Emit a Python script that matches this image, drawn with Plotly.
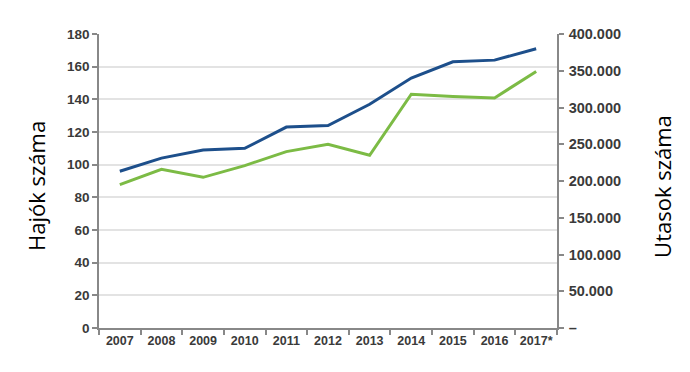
import plotly.graph_objects as go

years = ["2007", "2008", "2009", "2010", "2011", "2012", "2013", "2014", "2015", "2016", "2017*"]
hajok = [96, 104, 109, 110, 123, 124, 137, 153, 163, 164, 171]
utasok = [195000, 216000, 205000, 221000, 240000, 250000, 235000, 318000, 315000, 313000, 349000]

left_ticks = [0, 20, 40, 60, 80, 100, 120, 140, 160, 180]
right_ticks = [0, 50000, 100000, 150000, 200000, 250000, 300000, 350000, 400000]
right_labels = ["–", "50.000", "100.000", "150.000", "200.000", "250.000", "300.000", "350.000", "400.000"]

fig = go.Figure()
fig.add_trace(go.Scatter(x=years, y=hajok, mode="lines", line=dict(color="#1d4f8b", width=3), yaxis="y"))
fig.add_trace(go.Scatter(x=years, y=utasok, mode="lines", line=dict(color="#7cbb45", width=3), yaxis="y2"))

fig.update_layout(
    width=690, height=372,
    margin=dict(l=91, r=141, t=26, b=52, autoexpand=False),
    paper_bgcolor="white", plot_bgcolor="white",
    showlegend=False,
    xaxis=dict(type="category", range=[-0.5, 10.5], tickson="boundaries", tickangle=0,
               automargin=False,
               ticks="outside", ticklen=5, tickcolor="#888", tickwidth=1.5,
               showline=True, linecolor="#888", linewidth=1.5, showgrid=False,
               tickfont=dict(family="Liberation Sans", size=12.5, color="#3a3a3a", weight="bold")),
    yaxis=dict(range=[0, 180], tickvals=left_ticks, ticks="outside", ticklen=5, automargin=False,
               tickcolor="#888", tickwidth=1.5, showline=True, linecolor="#888", linewidth=1.5,
               showgrid=True, gridcolor="#e3e3e3", gridwidth=1.5, zeroline=False,
               tickfont=dict(family="Liberation Sans", size=13.5, color="#3a3a3a", weight="bold")),
    yaxis2=dict(range=[0, 400000], overlaying="y", side="right", tickvals=right_ticks, automargin=False,
                ticktext=right_labels, ticks="outside", ticklen=5, tickcolor="#888", tickwidth=1.5,
                ticklabelstandoff=2,
                showline=True, linecolor="#888", linewidth=1.5, showgrid=False, zeroline=False,
                tickfont=dict(family="Liberation Sans", size=14.5, color="#3a3a3a", weight="bold")),
    annotations=[
        dict(text="Hajók száma", xref="paper", yref="paper", x=-0.1376, y=0.483,
             textangle=-90, showarrow=False, xanchor="center", yanchor="middle",
             font=dict(family="Open Sans", size=22, color="black")),
        dict(text="Utasok száma", xref="paper", yref="paper", x=1.229, y=0.483,
             textangle=-90, showarrow=False, xanchor="center", yanchor="middle",
             font=dict(family="Open Sans", size=22, color="black")),
    ],
)

fig.write_html("out.html")
